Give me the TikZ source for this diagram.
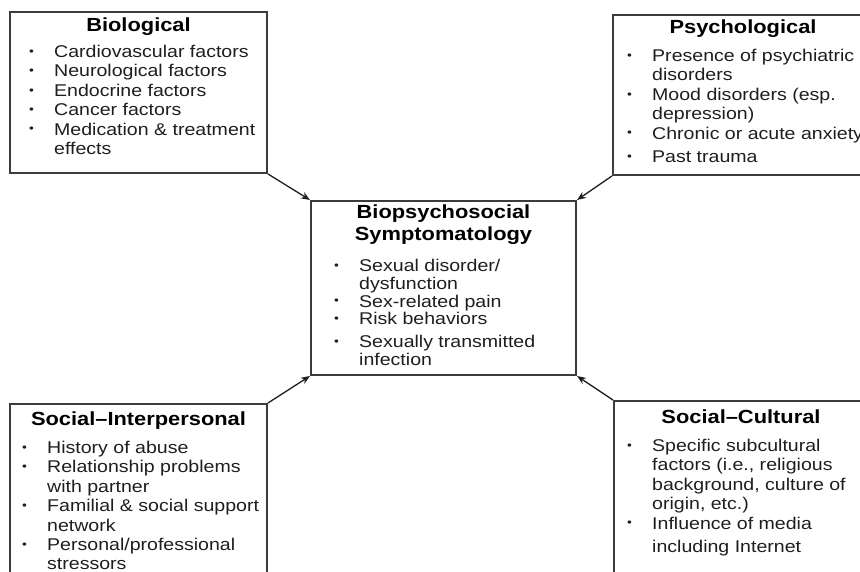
\documentclass[tikz,border=0pt]{standalone}
\usepackage{graphicx}
\usepackage{fontspec}
\setmainfont[FakeStretch=1.15]{Liberation Sans}
\usetikzlibrary{arrows.meta, positioning}
\definecolor{bpsInk}{HTML}{1E1E1E}
\definecolor{bpsFrame}{HTML}{3C3C3C}
\newcommand{\bdot}{\makebox[25pt][l]{\raisebox{0.25ex}{\scalebox{0.7}{\textbullet}}}}
\newcommand{\bgap}{\hspace*{25pt}}

\begin{document}
\begin{tikzpicture}[
  x=1pt, y=1pt,
  frame/.style={
    rectangle, draw=bpsFrame, line width=2pt, inner sep=0pt,
  },
  heading/.style={font=\fontsize{19}{21.5}\selectfont\bfseries, text=black, inner sep=0pt, align=center},
  items/.style={font=\fontsize{17}{19.4}\selectfont, text=bpsInk, inner sep=0pt, align=left},
  arrow/.style={-{Stealth[length=9pt, width=7pt]}, line width=1.3pt, color=bpsInk},
]
\clip (0,0) rectangle (860,572);

% Frames
\node[frame, minimum width=257pt, minimum height=161pt] (bio) at (138.5,479.5) {};
\node[frame, minimum width=260pt, minimum height=160pt] (psy) at (743,477) {};
\node[frame, minimum width=265pt, minimum height=174pt] (core) at (443.5,284) {};
\node[frame, minimum width=257pt, minimum height=186pt] (sip) at (138.5,75) {};
\node[frame, minimum width=254pt, minimum height=189pt] (scu) at (741,76.5) {};

% Headings
\node[heading, below=7pt of bio.north] (bioH) {Biological};
\node[heading, below=6pt of psy.north] (psyH) {Psychological};
\node[heading, below=5pt of core.north] (coreH) {Biopsychosocial\\Symptomatology};
\node[heading, below=9pt of sip.north] (sipH) {Social–Interpersonal};
\node[heading, below=10pt of scu.north] (scuH) {Social–Cultural};

% Lists
\node[items, below right=34pt and 20pt of bio.north west] (bioL) {%
  \bdot Cardiovascular factors\\
  \bdot Neurological factors\\
  \bdot Endocrine factors\\
  \bdot Cancer factors\\
  \bdot Medication \& treatment\\
  \bgap effects};
\node[items, below right=35pt and 15pt of psy.north west] (psyL) {%
  \bdot Presence of psychiatric\\
  \bgap disorders\\
  \bdot Mood disorders (esp.\\
  \bgap depression)\\
  \bdot Chronic or acute anxiety\\[4pt]
  \bdot Past trauma};
\node[items, font=\fontsize{17}{17.8}\selectfont, below right=59pt and 24pt of core.north west] (coreL) {%
  \bdot Sexual disorder/\\
  \bgap dysfunction\\
  \bdot Sex-related pain\\
  \bdot Risk behaviors\\[5pt]
  \bdot Sexually transmitted\\
  \bgap infection};
\node[items, below right=38pt and 13pt of sip.north west] (sipL) {%
  \bdot History of abuse\\
  \bdot Relationship problems\\
  \bgap with partner\\
  \bdot Familial \& social support\\
  \bgap network\\
  \bdot Personal/professional\\
  \bgap stressors};
\node[items, below right=39pt and 14pt of scu.north west] (scuL) {%
  \bdot Specific subcultural\\
  \bgap factors (i.e., religious\\
  \bgap background, culture of\\
  \bgap origin, etc.)\\
  \bdot Influence of media\\[4pt]
  \bgap including Internet};

% Arrows
\draw[arrow] (bio.south east) -- (core.north west);
\draw[arrow] (psy.south west) -- (core.north east);
\draw[arrow] (sip.north east) -- (core.south west);
\draw[arrow] (scu.north west) -- (core.south east);

\end{tikzpicture}
\end{document}
